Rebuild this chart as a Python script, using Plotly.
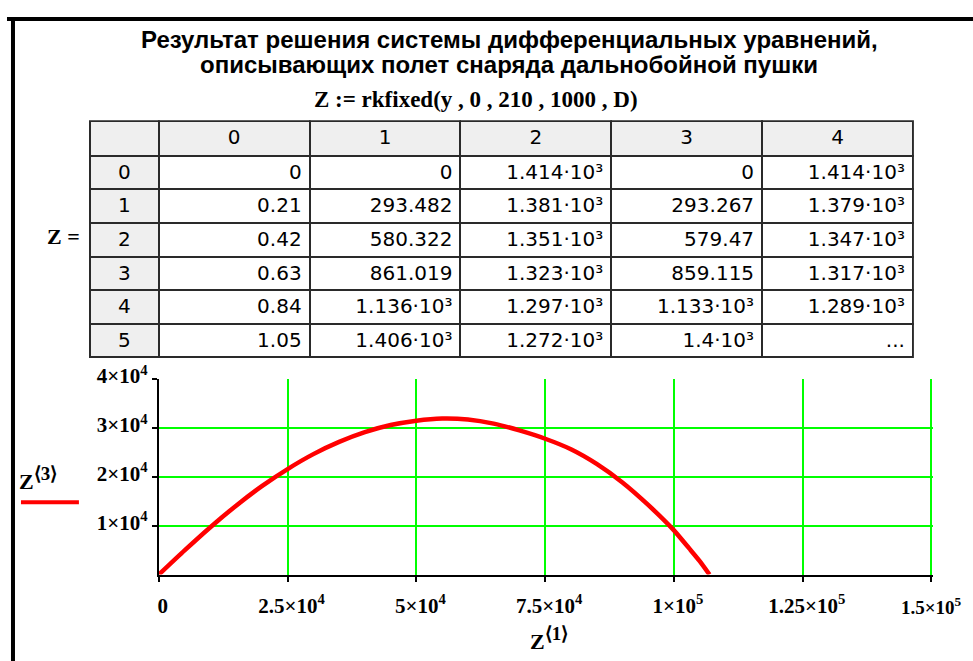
import math
import plotly.graph_objects as go

W, H = 973, 661

# ---- table data (Z matrix, first 6 rows) ----
row_index = [0, 1, 2, 3, 4, 5]
col_headers = ["0", "1", "2", "3", "4"]
z_col0 = [0, 0.21, 0.42, 0.63, 0.84, 1.05]
z_col1 = [0, 293.482, 580.322, 861.019, 1136, 1406]
z_col2 = [1414, 1381, 1351, 1323, 1297, 1272]
z_col3 = [0, 293.267, 579.47, 859.115, 1133, 1400]
z_col4 = [1414, 1379, 1347, 1317, 1289, None]

# ---- trajectory: Z<1> (x) vs Z<3> (y) ----
traj_x = [0, 5000, 10000, 15000, 20000, 25000, 30000, 35000, 40000, 45000,
          50000, 55000, 60000, 65000, 70000, 75000, 80000, 85000,
          90000, 95000, 100000, 103000, 105000, 106900]
traj_y = [0, 4950, 9700, 14100, 18100, 21600, 24650, 27150, 29150, 30600,
          31500, 31950, 31750, 30900, 29500, 27800, 25650, 22650,
          18850, 14250, 9050, 5300, 2750, 0]

x_tickvals = [0, 25000, 50000, 75000, 100000, 125000, 150000]
x_ticktext = ["0", "2.5×10<sup>4</sup>", "5×10<sup>4</sup>", "7.5×10<sup>4</sup>",
              "1×10<sup>5</sup>", "1.25×10<sup>5</sup>", "1.5×10<sup>5</sup>"]
y_tickvals = [10000, 20000, 30000, 40000]
y_ticktext = ["1×10<sup>4</sup>", "2×10<sup>4</sup>", "3×10<sup>4</sup>", "4×10<sup>4</sup>"]

SUP = str.maketrans("0123456789", "⁰¹²³⁴⁵⁶⁷⁸⁹")


def mfmt(v):
    if v is None:
        return "..."
    if v == 0:
        return "0"
    if abs(v) >= 1000:
        e = int(math.floor(math.log10(abs(v))))
        m = ("%.3f" % (v / 10 ** e)).rstrip("0").rstrip(".")
        return f"{m}·10" + str(e).translate(SUP)
    return ("%.3f" % v).rstrip("0").rstrip(".")


# page-to-picture mapping observed for the captured page
SX, OX, SY, OY = 1.0, 0.0, 0.982, 12.0


def px(x):
    return max(0.0, min(1.0, ((x - OX) / SX) / W))


def py(y):
    return max(0.0, min(1.0, 1 - ((y - OY) / SY) / H))


fig = go.Figure()

tfont = dict(family="DejaVu Sans", size=20, color="black")
fig.add_trace(go.Table(
    domain=dict(x=[px(89), px(913)], y=[py(360), py(117)]),
    columnwidth=[69, 151, 151, 151, 151, 151],
    header=dict(values=[""] + col_headers, fill_color="#efefef",
                line=dict(color="#2a2a2a", width=2), align="center",
                height=34.0 / SY, font=tfont),
    cells=dict(values=[[str(r) for r in row_index],
                       [mfmt(v) for v in z_col0],
                       [mfmt(v) for v in z_col1],
                       [mfmt(v) for v in z_col2],
                       [mfmt(v) for v in z_col3],
                       [mfmt(v) for v in z_col4]],
               fill_color=["#efefef", "white", "white", "white", "white", "white"],
               line=dict(color="#2a2a2a", width=2),
               align=["center", "right", "right", "right", "right", "right"],
               height=33.0 / SY, font=tfont),
))

fig.add_trace(go.Scatter(x=traj_x, y=traj_y, mode="lines",
                         line=dict(color="#ff0000", width=4.5, shape="spline", smoothing=0.6),
                         showlegend=False, hoverinfo="skip"))

TF = 21
tickfont = dict(family="Liberation Serif", size=TF, color="black", weight="bold")
# the last x label is placed as an annotation (it runs off the page edge as in the original)
fig.update_layout(
    width=W, height=H, autosize=False,
    margin=dict(l=0, r=0, t=0, b=0),
    paper_bgcolor="white", plot_bgcolor="white",
    showlegend=False,
    xaxis=dict(domain=[px(158), px(933)], range=[0, 150300],
               tickvals=x_tickvals, ticktext=x_ticktext[:-1] + [""],
               showgrid=True, gridcolor="#00ff00", gridwidth=2,
               showline=True, linecolor="black", linewidth=2,
               ticks="outside", ticklen=5, tickwidth=2, tickcolor="black",
               zeroline=False, tickfont=tickfont, ticklabelstandoff=6,
               ticklabelshift=4),
    yaxis=dict(domain=[py(574), py(377)], range=[0, 40000],
               tickvals=y_tickvals, ticktext=y_ticktext,
               showgrid=True, gridcolor="#00ff00", gridwidth=2,
               showline=True, linecolor="black", linewidth=2,
               ticks="outside", ticklen=5, tickwidth=2, tickcolor="black",
               zeroline=False, tickfont=tickfont, ticklabelstandoff=0,
               ticklabelshift=-3),
)

SUPBR = '<span style="font-size:{0}px">⟨{1}⟩</span>'
annotations = [
    dict(text="<b>Результат решения системы дифференциальных уравнений,</b>",
         x=px(509), y=py(35), xanchor="center", yanchor="middle",
         font=dict(family="Liberation Sans", size=24, color="black")),
    dict(text="<b>описывающих полет снаряда дальнобойной пушки</b>",
         x=px(509), y=py(60), xanchor="center", yanchor="middle",
         font=dict(family="Liberation Sans", size=24, color="black")),
    dict(text="<b>Z := rkfixed(y , 0 , 210 , 1000 , D)</b>",
         x=px(475), y=py(95), xanchor="center", yanchor="middle",
         font=dict(family="Liberation Serif", size=23, color="black")),
    dict(text="<b>Z =</b>", x=px(63), y=py(233), xanchor="center", yanchor="middle",
         font=dict(family="Liberation Serif", size=22, color="black")),
    dict(text="<b>Z<sup>" + SUPBR.format(19, 3) + "</sup></b>",
         x=px(37), y=py(477), xanchor="center", yanchor="middle",
         font=dict(family="Liberation Serif", size=22, color="black")),
    dict(text="<b>Z<sup>" + SUPBR.format(19, 1) + "</sup></b>",
         x=px(549), y=py(638), xanchor="center", yanchor="middle",
         font=dict(family="Liberation Serif", size=22, color="black")),
    dict(text="<b>" + x_ticktext[-1] + "</b>", xref="x", x=x_tickvals[-1],
         y=py(606), xanchor="center", yanchor="middle",
         font=dict(family="Liberation Serif", size=19, color="black")),
]
for a in annotations:
    a.setdefault("xref", "paper")
    a.update(yref="paper", showarrow=False)
fig.update_layout(annotations=annotations)

fig.update_layout(shapes=[
    dict(type="line", xref="paper", yref="paper", x0=px(6), x1=1, y0=py(14), y1=py(14),
         line=dict(color="black", width=4)),
    dict(type="line", xref="paper", yref="paper", x0=px(12), x1=px(12), y0=py(12), y1=0,
         line=dict(color="black", width=4)),
    dict(type="line", xref="paper", yref="paper", x0=px(20), x1=px(78), y0=py(501), y1=py(501),
         line=dict(color="#ff0000", width=4)),
])

fig.write_html("out.html",
               config={"responsive": False, "displayModeBar": False},
               post_script="document.body.style.margin='0';document.body.style.overflow='hidden';")
